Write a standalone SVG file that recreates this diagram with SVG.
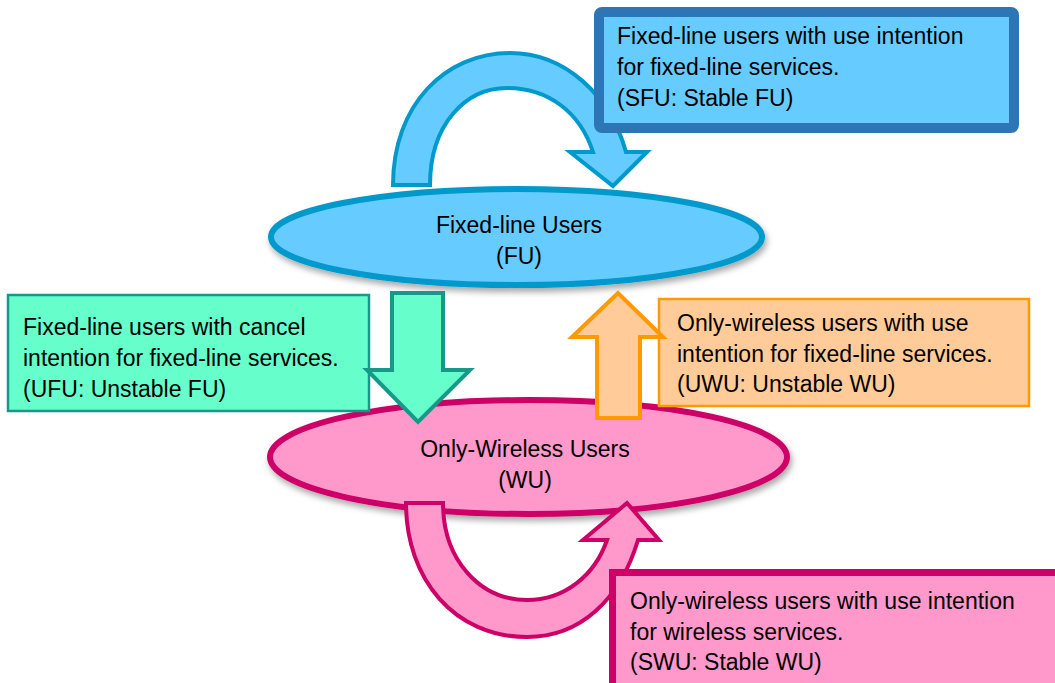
<svg xmlns="http://www.w3.org/2000/svg" width="1055" height="683" viewBox="0 0 1055 683">
<defs>
<filter id="sh" x="-10%" y="-20%" width="120%" height="150%">
<feDropShadow dx="2" dy="4" stdDeviation="3" flood-color="#000" flood-opacity="0.35"/>
</filter>
<style>
text{font-family:"Liberation Sans",Arial,sans-serif;font-size:23px;fill:#000}
.c{text-anchor:middle}
</style>
</defs>
<rect width="1055" height="683" fill="#fff"/>
<g id="connectors">
<path id="loop-fu" d="M393,185 C393,105 445,53 510,53 C565,53 610,95 626,152 L647,152 L613,186 L570,152 L593,152 C580,112 548,88 507,88 C465,88 430,125 430,185 Z" fill="#66CCFF" stroke="#0099CC" stroke-width="4" stroke-linejoin="miter"/>
</g>
<g id="node-fu">
<ellipse cx="516.5" cy="237" rx="245.5" ry="48" fill="#66CCFF" stroke="#0099CC" stroke-width="6" filter="url(#sh)"/>
<text class="c" x="519" y="233">Fixed-line Users</text>
<text class="c" x="519" y="264">(FU)</text>
</g>
<g id="node-wu">
<ellipse cx="528.5" cy="457" rx="258.5" ry="57" fill="#FF99CC" stroke="#CC0066" stroke-width="6" filter="url(#sh)"/>
<text class="c" x="525" y="457">Only-Wireless Users</text>
<text class="c" x="525" y="488">(WU)</text>
</g>
<g id="node-ufu">
<rect x="8" y="295" width="361" height="116" fill="#66FFCC" stroke="#17998A" stroke-width="2.5"/>
<text x="23" y="335">Fixed-line users with cancel</text>
<text x="23" y="366">intention for fixed-line services.</text>
<text x="23" y="397">(UFU: Unstable FU)</text>
</g>
<g id="node-uwu">
<rect x="659" y="299" width="370" height="107" fill="#FFCC99" stroke="#FF9900" stroke-width="2.5"/>
<text x="677" y="331">Only-wireless users with use</text>
<text x="677" y="362">intention for fixed-line services.</text>
<text x="677" y="392">(UWU: Unstable WU)</text>
</g>
<g id="connectors-2">
<path id="fu-to-wu" d="M392,293 L443,293 L443,370 L470,370 L418,422 L367,370 L392,370 Z" fill="#66FFCC" stroke="#17998A" stroke-width="4"/>
<path id="wu-to-fu" d="M597,418 L640,418 L640,337 L663,337 L618,293 L572,337 L597,337 Z" fill="#FFCC99" stroke="#FF9900" stroke-width="4"/>
<path id="loop-wu" d="M406,503 L443,503 C443,560 480,600 527,600 C565,600 595,575 607,540 L583,540 L627,503 L659,540 L638,540 C620,600 580,637 527,637 C455,637 406,580 406,503 Z" fill="#FF99CC" stroke="#CC0066" stroke-width="4"/>
</g>
<g id="node-sfu">
<rect x="599" y="12" width="415" height="116" rx="3" fill="#66CCFF" stroke="#2E75B6" stroke-width="10"/>
<text x="617" y="44">Fixed-line users with use intention</text>
<text x="617" y="75">for fixed-line services.</text>
<text x="617" y="106">(SFU: Stable FU)</text>
</g>
<g id="node-swu">
<rect x="612.5" y="572.5" width="470" height="130" fill="#FF99CC" stroke="#CC0066" stroke-width="7"/>
<text x="630" y="609">Only-wireless users with use intention</text>
<text x="630" y="640">for wireless services.</text>
<text x="630" y="670">(SWU: Stable WU)</text>
</g>
</svg>
